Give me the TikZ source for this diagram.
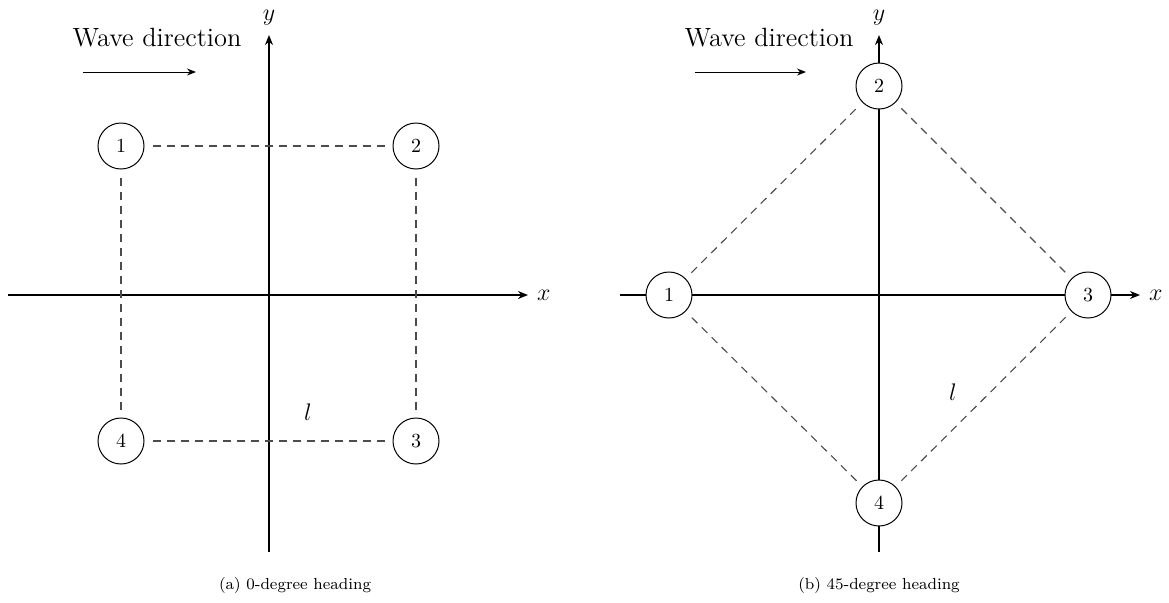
\documentclass[tikz,border=0pt]{standalone}
\usetikzlibrary{arrows.meta}
\begin{document}
\begin{tikzpicture}[x=0.5pt,y=-0.5pt,
  axis/.style={line width=0.8pt,-{Stealth[length=5pt,width=4pt]}},
  buoy/.style={circle,draw,line width=0.5pt,fill=white,minimum size=23pt,inner sep=0pt,font=\fontsize{10}{12}\selectfont},
  link/.style={draw=black!70,line width=0.55pt,dash pattern=on 4pt off 3pt,shorten <=4pt,shorten >=4pt},
  lbl/.style={font=\fontsize{12.5}{14}\selectfont},
  wavetext/.style={font=\fontsize{13.2}{15}\selectfont},
  captext/.style={font=\footnotesize},
  wave/.style={line width=0.5pt,-{Stealth[length=4.5pt,width=3.5pt]}}]
\useasboundingbox (0,0) rectangle (1169,602);
% ---------- left panel ----------
\coordinate (ay0) at (269,552);
\coordinate (ay1) at (269,35);
\coordinate (ax0) at (8,295);
\coordinate (ax1) at (528,295);
\draw[axis] (ay0) -- (ay1);
\draw[axis] (ax0) -- (ax1);
\node[lbl,anchor=south] (ylA) at (269,32) {$y$};
\node[lbl,anchor=west] (xlA) at (530,295) {$x$};
\node[buoy] (a1) at (121,146) {1};
\node[buoy] (a2) at (416,146) {2};
\node[buoy] (a3) at (416,441) {3};
\node[buoy] (a4) at (121,441) {4};
\draw[link] (a1) -- (a2);
\draw[link] (a2) -- (a3);
\draw[link] (a3) -- (a4);
\draw[link] (a4) -- (a1);
\node[lbl] (lA) at (308,412) {$l$};
\node[wavetext] (wA) at (157,38) {Wave direction};
\coordinate (wA0) at (83,72);
\coordinate (wA1) at (196,72);
\draw[wave] (wA0) -- (wA1);
\node[captext] (cA) at (295,585) {(a) 0-degree heading};
% ---------- right panel ----------
\coordinate (by0) at (879,552);
\coordinate (by1) at (879,35);
\coordinate (bx0) at (620,295);
\coordinate (bx1) at (1140,295);
\draw[axis] (by0) -- (by1);
\draw[axis] (bx0) -- (bx1);
\node[lbl,anchor=south] (ylB) at (879,32) {$y$};
\node[lbl,anchor=west] (xlB) at (1142,295) {$x$};
\node[buoy] (b1) at (669,295) {1};
\node[buoy] (b2) at (879,86) {2};
\node[buoy] (b3) at (1088,295) {3};
\node[buoy] (b4) at (879,503) {4};
\draw[link] (b1) -- (b2);
\draw[link] (b2) -- (b3);
\draw[link] (b3) -- (b4);
\draw[link] (b4) -- (b1);
\node[lbl] (lB) at (953,392) {$l$};
\node[wavetext] (wB) at (769,38) {Wave direction};
\coordinate (wB0) at (695,72);
\coordinate (wB1) at (806,72);
\draw[wave] (wB0) -- (wB1);
\node[captext] (cB) at (879,585) {(b) 45-degree heading};
\end{tikzpicture}
\end{document}
